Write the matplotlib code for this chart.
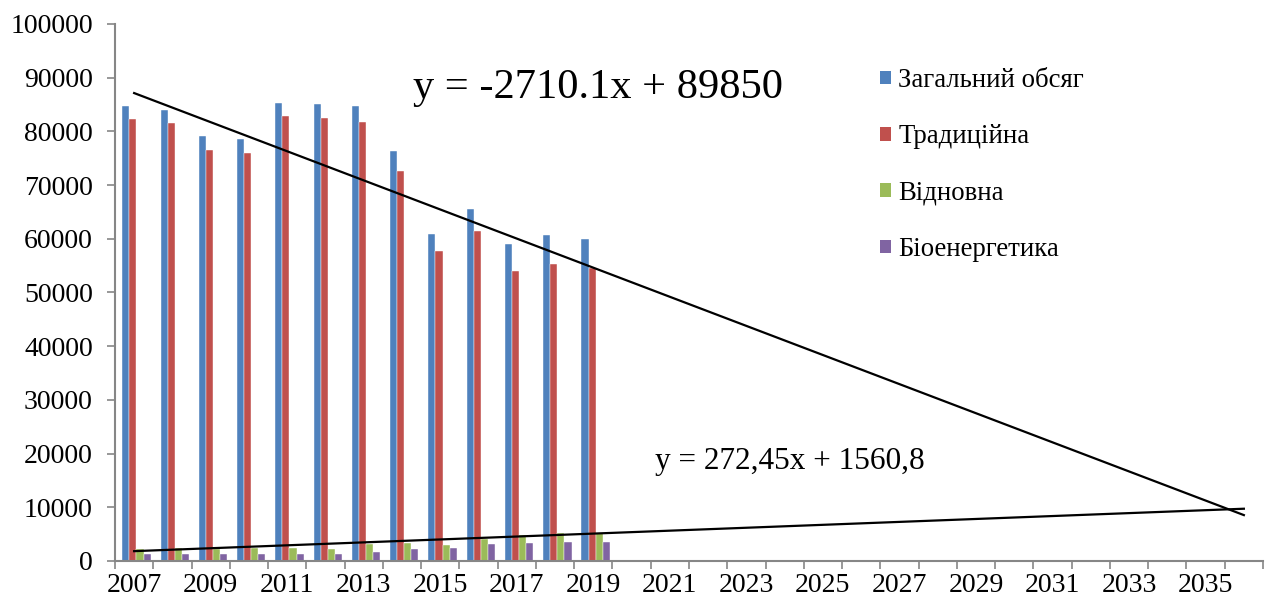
import numpy as np
import matplotlib
matplotlib.use("Agg")
import matplotlib.pyplot as plt
from matplotlib.patches import Patch

plt.rcParams['font.family'] = ['Liberation Serif', 'DejaVu Serif']

# Categories: years 2007..2036 (data for 2007..2019, the rest is forecast horizon)
years = list(range(2007, 2037))
data_years = list(range(2007, 2020))

total = [84800, 84000, 79200, 78500, 85300, 85100, 84800, 76400, 60900, 65600, 59100, 60800, 60000]
traditional = [82400, 81500, 76600, 75900, 82800, 82500, 81700, 72700, 57700, 61500, 54000, 55400, 54500]
renewable = [2200, 2400, 2200, 2400, 2400, 2300, 3100, 3400, 3000, 4100, 4900, 5200, 5250]
bioenergy = [1300, 1370, 1250, 1250, 1370, 1370, 1750, 2250, 2440, 3200, 3440, 3560, 3630]

series_names = ["Загальний обсяг", "Традиційна", "Відновна", "Біоенергетика"]
series_colors = ["#4F81BD", "#C0504D", "#9BBB59", "#8064A2"]

# Linear trends (x = 1 for the first year)
trend_total = (-2710.1, 89850)
trend_renew = (272.45, 1560.8)

fig = plt.figure(figsize=(12.69, 6.06), dpi=100)
ax = fig.add_axes([115 / 1269, 1 - 561 / 606, (1263 - 115) / 1269, (561 - 24) / 606])

idx = np.arange(len(data_years))
bw = 0.185
all_series = [total, traditional, renewable, bioenergy]
for k, (vals, col, name) in enumerate(zip(all_series, series_colors, series_names)):
    ax.bar(idx + (k - 1.5) * bw + 0.06, vals, width=bw, color=col, label=name,
           edgecolor='white', linewidth=0.3)

xt = np.arange(len(years))
xs = xt + 1
for (a, b) in (trend_total, trend_renew):
    ax.plot(xt, a * xs + b, color='black', linewidth=1.6, zorder=5)

ax.set_xlim(-0.5, len(years) - 0.5)
ax.set_ylim(0, 100000)
ax.set_yticks(np.arange(0, 100001, 10000))
ax.set_xticks(xt[::2])
ax.set_xticklabels([str(y) for y in years[::2]])
ax.set_xticks(np.arange(-0.5, len(years), 1), minor=True)
ax.tick_params(axis='x', which='major', length=0, labelsize=20, pad=9)
ax.tick_params(axis='x', which='minor', length=6, color='#868686', width=1.2)
ax.tick_params(axis='y', length=6, color='#868686', width=1.2, labelsize=20, pad=10)

for s in ('top', 'right'):
    ax.spines[s].set_visible(False)
for s in ('left', 'bottom'):
    ax.spines[s].set_color('#868686')
    ax.spines[s].set_linewidth(1.5)

fig.text(598 / 1269, 1 - 88 / 606, "y = -2710.1x + 89850", fontsize=30.6,
         ha='center', va='center')
fig.text(790 / 1269, 1 - 462 / 606, "y = 272,45x + 1560,8", fontsize=22.5,
         ha='center', va='center')

handles = [Patch(facecolor=c) for c in series_colors]
fig.legend(handles, series_names, loc='upper left',
           bbox_to_anchor=(856 / 1269, 1 - 44 / 606), frameon=False,
           fontsize=19.3, handlelength=0.41, handleheight=0.41,
           handletextpad=0.26, labelspacing=1.17)

fig.savefig("out.png", dpi=100)
